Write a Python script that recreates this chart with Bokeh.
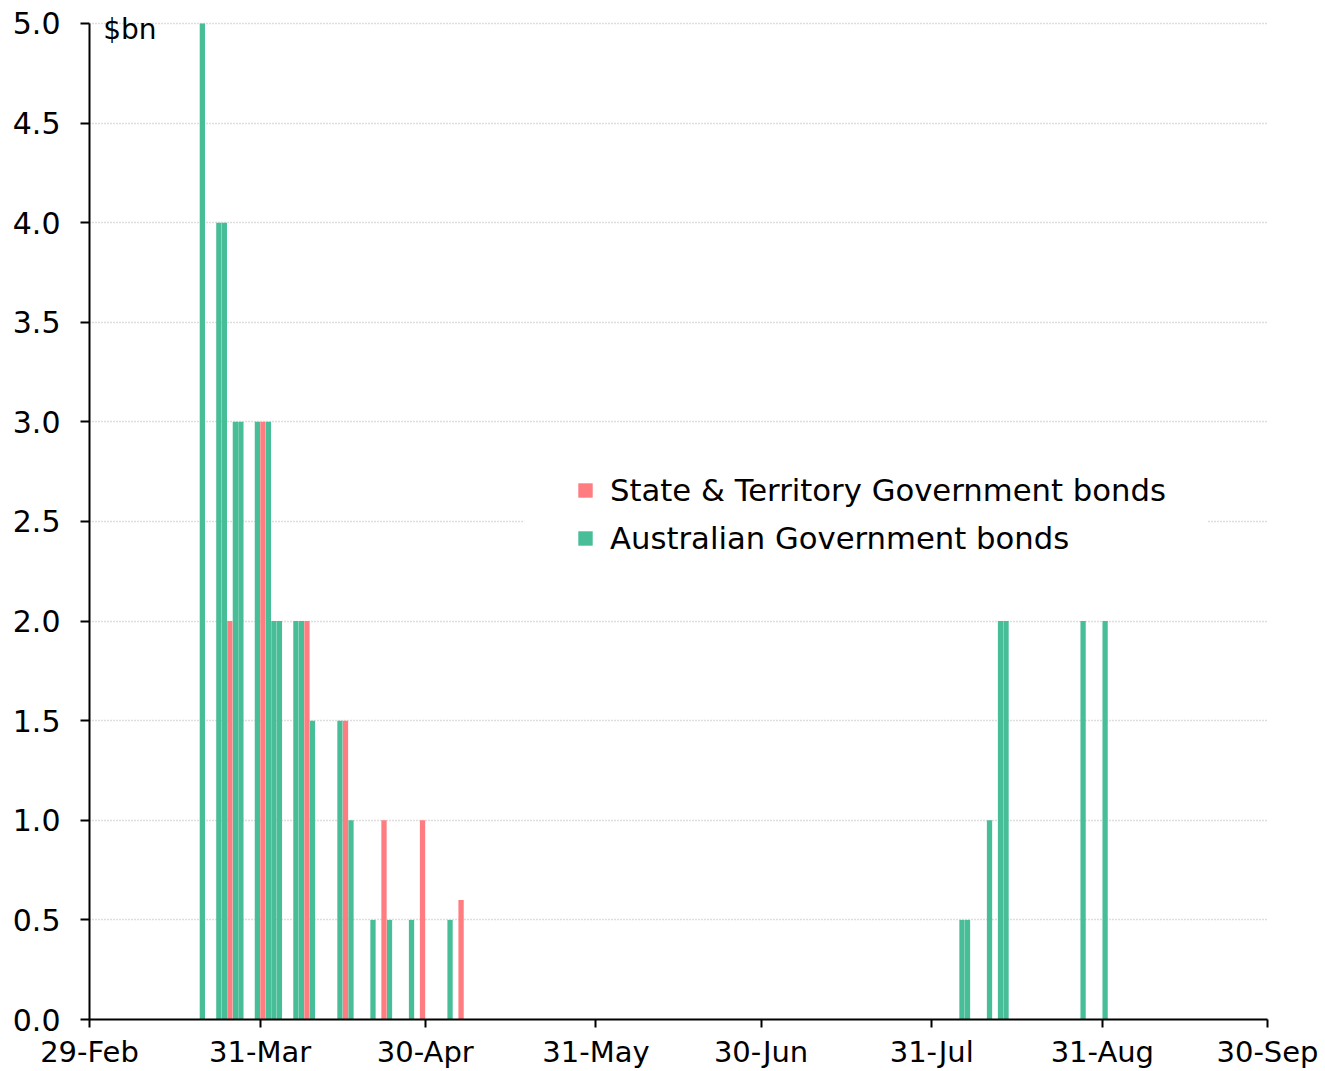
import pandas as pd
from bokeh.plotting import figure
from bokeh.models import (ColumnDataSource, Range1d, FixedTicker, DatetimeTickFormatter,
                          Legend, LegendItem, Label, BoxAnnotation)
from bokeh.embed import file_html
from bokeh.resources import INLINE

# ---------------- data ----------------
agb_dates = ["2020-03-20", "2020-03-23", "2020-03-24", "2020-03-26", "2020-03-27",
             "2020-03-30", "2020-04-01", "2020-04-02", "2020-04-03", "2020-04-06",
             "2020-04-07", "2020-04-09", "2020-04-14", "2020-04-16", "2020-04-20",
             "2020-04-23", "2020-04-27", "2020-05-04", "2020-08-05", "2020-08-06",
             "2020-08-10", "2020-08-12", "2020-08-13", "2020-08-27", "2020-08-31"]
agb_values = [5.0, 4.0, 4.0, 3.0, 3.0,
              3.0, 3.0, 2.0, 2.0, 2.0,
              2.0, 1.5, 1.5, 1.0, 0.5,
              0.5, 0.5, 0.5, 0.5, 0.5,
              1.0, 2.0, 2.0, 2.0, 2.0]

semi_dates = ["2020-03-25", "2020-03-31", "2020-04-08", "2020-04-15",
              "2020-04-22", "2020-04-29", "2020-05-06"]
semi_values = [2.0, 3.0, 2.0, 1.5, 1.0, 1.0, 0.6]

x_tick_dates = ["2020-02-29", "2020-03-31", "2020-04-30", "2020-05-31",
                "2020-06-30", "2020-07-31", "2020-08-31", "2020-09-30"]
y_ticks = [0.0, 0.5, 1.0, 1.5, 2.0, 2.5, 3.0, 3.5, 4.0, 4.5, 5.0]
y_labels = ["0.0", "0.5", "1.0", "1.5", "2.0", "2.5", "3.0", "3.5", "4.0", "4.5", "5.0"]

series_names = ["State & Territory Government bonds", "Australian Government bonds"]
unit_label = "$bn"

# ---------------- styling ----------------
GREEN = "#47BE97"
RED = "#FF7C80"
FONT = "DejaVu Sans"

HALF = pd.Timedelta(hours=12)
bar_w = 0.96 * 86400000

agb_src = ColumnDataSource(dict(x=pd.to_datetime(agb_dates) + HALF, top=agb_values))
semi_src = ColumnDataSource(dict(x=pd.to_datetime(semi_dates) + HALF, top=semi_values))

p = figure(width=1325, height=1071, x_axis_type="datetime",
           output_backend="svg", toolbar_location=None,
           x_range=Range1d(pd.Timestamp(x_tick_dates[0]), pd.Timestamp(x_tick_dates[-1])),
           y_range=Range1d(0, 5.08),
           min_border_left=89, min_border_right=58, min_border_top=7, min_border_bottom=52)
p.outline_line_color = None
p.background_fill_color = "white"
p.border_fill_color = "white"

r_agb = p.vbar(x="x", top="top", width=bar_w, bottom=0, source=agb_src,
               fill_color=GREEN, line_color=None)
r_semi = p.vbar(x="x", top="top", width=bar_w, bottom=0, source=semi_src,
                fill_color=RED, line_color=None)

# grid
p.xgrid.grid_line_color = None
p.ygrid.grid_line_color = "#BDBDBD"
p.ygrid.grid_line_dash = "1 2"
p.ygrid.grid_line_width = 1.3
p.ygrid.ticker = FixedTicker(ticks=y_ticks[1:])

# x axis
xt = [pd.Timestamp(d).value / 1e6 for d in x_tick_dates]
p.xaxis.ticker = FixedTicker(ticks=xt)
fmt = "%d-%b"
p.xaxis.formatter = DatetimeTickFormatter(days=fmt, months=fmt, years=fmt, hours=fmt,
                                          minutes=fmt, seconds=fmt, milliseconds=fmt,
                                          microseconds=fmt, minsec=fmt, hourmin=fmt)
p.xaxis.minor_tick_line_color = None
p.xaxis.major_tick_in = 0
p.xaxis.major_tick_out = 8
p.xaxis.major_label_standoff = 7
p.xaxis.major_label_text_font_size = "29px"

# y axis
p.yaxis.ticker = FixedTicker(ticks=y_ticks)
p.yaxis.bounds = (y_ticks[0], y_ticks[-1])
p.yaxis.major_label_overrides = {t: l for t, l in zip(y_ticks, y_labels)}
p.yaxis.minor_tick_line_color = None
p.yaxis.major_tick_in = 0
p.yaxis.major_tick_out = 9
p.yaxis.major_label_standoff = 20
p.yaxis.major_label_text_font_size = "30px"

for ax in (p.xaxis, p.yaxis):
    ax.axis_line_color = "black"
    ax.axis_line_width = 2
    ax.major_tick_line_color = "black"
    ax.major_tick_line_width = 2
    ax.major_label_text_font = FONT
    ax.major_label_text_color = "black"

# unit label
p.add_layout(Label(x=pd.Timestamp("2020-03-02") + HALF, y=5.0, text=unit_label,
                   text_font=FONT, text_font_size="28px", text_color="black",
                   text_baseline="middle", y_offset=-6))

# white area behind the legend (legend box background)
p.add_layout(BoxAnnotation(left=pd.Timestamp("2020-05-18"), right=pd.Timestamp("2020-09-19"),
                           bottom=2.3, top=2.72, fill_color="white", fill_alpha=1.0,
                           line_color=None, level="underlay"))

# legend
legend = Legend(items=[LegendItem(label=series_names[0], renderers=[r_semi]),
                       LegendItem(label=series_names[1], renderers=[r_agb])],
                location=(487, 461), orientation="vertical",
                glyph_width=18, glyph_height=18, label_height=40, spacing=8,
                label_standoff=16, padding=50, margin=0,
                label_text_font=FONT, label_text_font_size="30.7px", label_text_color="black",
                border_line_color=None, background_fill_color="white",
                background_fill_alpha=1.0)
p.add_layout(legend)

open("out.html", "w").write(file_html(p, INLINE))
